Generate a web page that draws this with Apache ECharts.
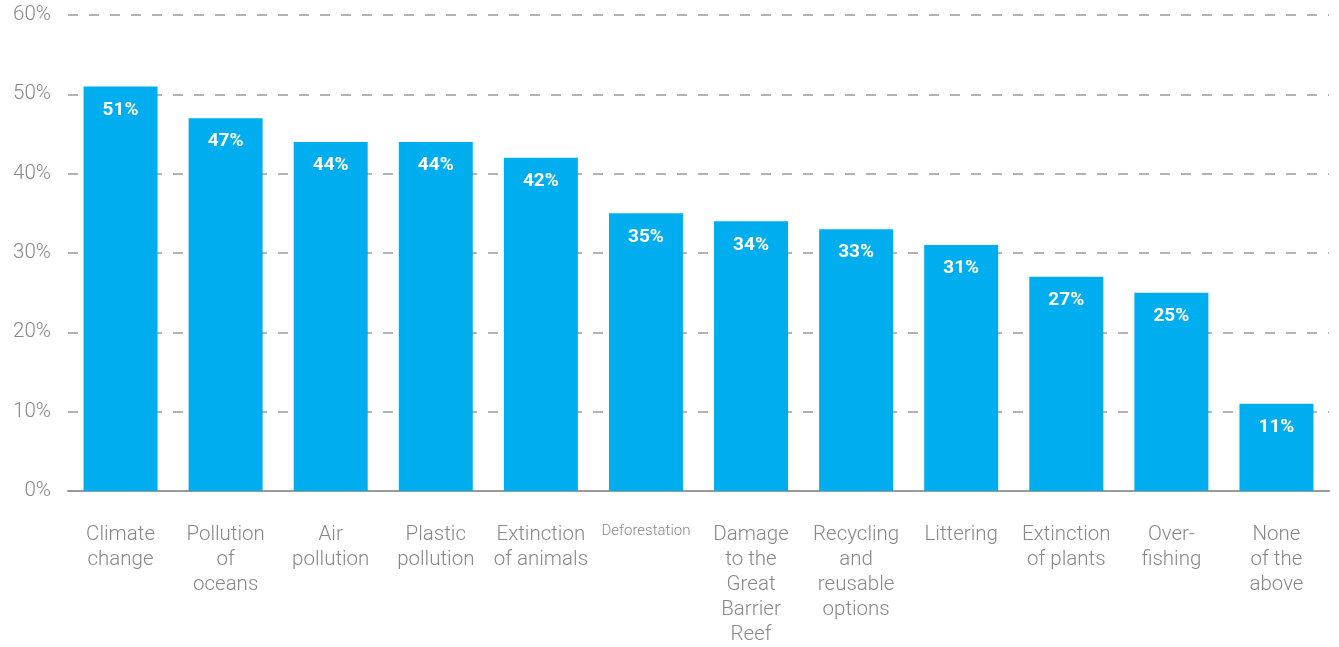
<!DOCTYPE html>
<html>
<head>
<meta charset="utf-8">
<script src="https://cdn.jsdelivr.net/npm/echarts@6/dist/echarts.min.js"></script>
<style>
  html, body { margin: 0; padding: 0; background: #fff; }
  #chart { width: 1339px; height: 647px; }
</style>
</head>
<body>
<div id="chart"></div>
<script>
// Environmental issues of concern (% of respondents)
const categories = [
  'Climate\nchange',
  'Pollution\nof\noceans',
  'Air\npollution',
  'Plastic\npollution',
  'Extinction\nof animals',
  'Deforestation',
  'Damage\nto the\nGreat\nBarrier\nReef',
  'Recycling\nand\nreusable\noptions',
  'Littering',
  'Extinction\nof plants',
  'Over-\nfishing',
  'None\nof the\nabove'
];
const shares = [51, 47, 44, 44, 42, 35, 34, 33, 31, 27, 25, 11];
const yTicks = [0, 10, 20, 30, 40, 50, 60];

const chart = echarts.init(document.getElementById('chart'));
chart.setOption({
  animation: false,
  grid: { left: 68, right: 10, top: 15, bottom: 155, containLabel: false },
  xAxis: {
    type: 'category',
    data: categories,
    axisLine: { show: true, lineStyle: { color: '#9a9a9a', width: 2 } },
    axisTick: { show: false },
    axisLabel: {
      interval: 0,
      margin: 31,
      color: '#888888',
      fontFamily: 'Roboto',
      fontWeight: 300,
      fontSize: 20.5,
      lineHeight: 25,
      verticalAlign: 'top',
      formatter: function (v) {
        return v === 'Deforestation' ? '{s|' + v + '}' : v;
      },
      rich: {
        s: { fontSize: 15, fontFamily: 'Roboto', fontWeight: 300, color: '#888888', lineHeight: 20, padding: [-2, 0, 0, 0] }
      }
    }
  },
  yAxis: {
    type: 'value',
    min: 0,
    max: 60,
    interval: 10,
    axisLine: { show: false },
    axisTick: { show: false },
    splitLine: { show: true, lineStyle: { color: '#9a9a9a', width: 1.5, type: [10, 11] } },
    axisLabel: {
      margin: 17,
      color: '#888888',
      fontFamily: 'Roboto',
      fontWeight: 300,
      fontSize: 20.5,
      formatter: function (v) { return yTicks.indexOf(v) >= 0 ? v + '%' : ''; }
    }
  },
  series: [{
    type: 'bar',
    data: shares,
    barWidth: 74,
    itemStyle: { color: '#00AEEF' },
    label: {
      show: true,
      position: 'insideTop',
      distance: 14,
      color: '#ffffff',
      fontFamily: 'Roboto',
      fontWeight: 'bold',
      fontSize: 19,
      formatter: '{c}%'
    }
  }]
});
</script>
</body>
</html>
